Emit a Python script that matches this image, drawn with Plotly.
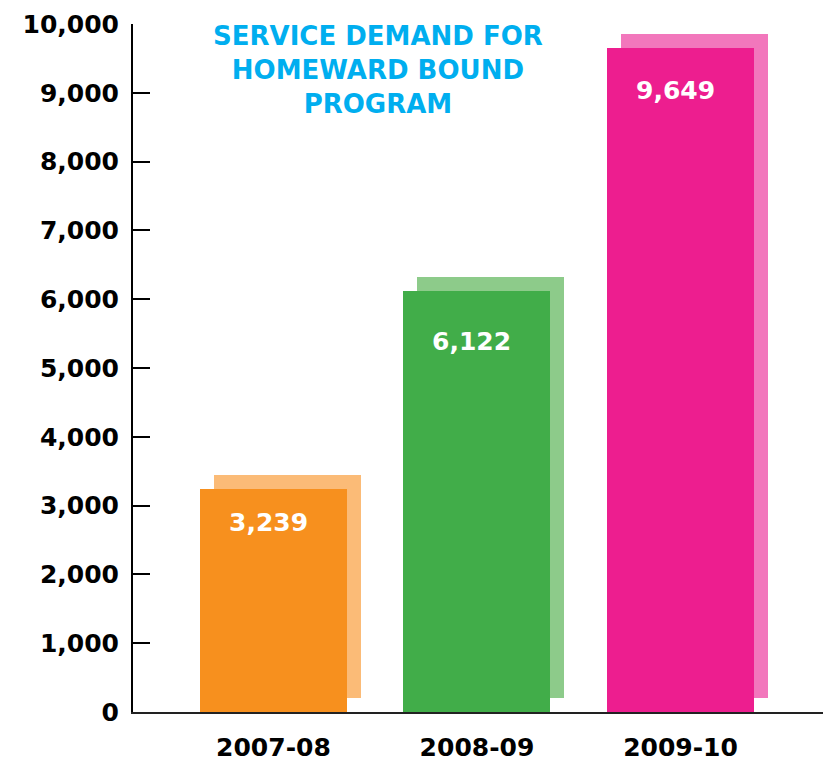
import plotly.graph_objects as go

# ---- data ----
categories = ["2007-08", "2008-09", "2009-10"]
values = [3239, 6122, 9649]
value_labels = ["3,239", "6,122", "9,649"]
tick_values = [0, 1000, 2000, 3000, 4000, 5000, 6000, 7000, 8000, 9000, 10000]
tick_labels = ["0", "1,000", "2,000", "3,000", "4,000", "5,000", "6,000", "7,000", "8,000", "9,000", "10,000"]
title_text = "SERVICE DEMAND FOR<br>HOMEWARD BOUND<br>PROGRAM"

# ---- style ----
main_colors = ["#F7901E", "#41AD49", "#ED1E8F"]
shadow_colors = ["#FBBB77", "#8DCB8A", "#F277BC"]
FONT = "DejaVu Sans"

W, H = 823, 762
ml, mr, mt, mb = 133, 0, 24, 50
plot_w = W - ml - mr
plot_h = H - mt - mb
x_range = [-0.69, 2.70]
y_range = [0, 10000]
px_per_x = plot_w / (x_range[1] - x_range[0])
px_per_y = plot_h / (y_range[1] - y_range[0])
bar_w = 147 / px_per_x
shift_px = 14
shadow_dx = shift_px / px_per_x
shadow_dy = shift_px / px_per_y
label_yshift = [-33, -51, -42]
label_dx = -5 / px_per_x

xpos = list(range(len(categories)))

fig = go.Figure()
fig.add_trace(go.Bar(
    x=xpos, y=values, base=[shadow_dy] * len(values),
    width=bar_w, offset=-bar_w / 2 + shadow_dx,
    marker=dict(color=shadow_colors, line=dict(width=0)),
    hoverinfo="skip", showlegend=False,
))
fig.add_trace(go.Bar(
    x=xpos, y=values, width=bar_w, offset=-bar_w / 2,
    marker=dict(color=main_colors, line=dict(width=0)),
    showlegend=False,
))

for i, (v, lab) in enumerate(zip(values, value_labels)):
    fig.add_annotation(
        x=i + label_dx, y=v, text=lab, showarrow=False,
        yshift=label_yshift[i], yanchor="middle", xanchor="center",
        font=dict(family=FONT, size=25, color="white", weight="bold"),
    )

fig.add_annotation(
    x=(377.5 - ml) / plot_w, y=1.007, xref="paper", yref="paper",
    text=title_text, showarrow=False, xanchor="center", yanchor="top",
    align="center",
    font=dict(family=FONT, size=26, color="#00AEEF", weight="bold"),
)

fig.update_layout(
    width=W, height=H,
    margin=dict(l=ml, r=mr, t=mt, b=mb),
    paper_bgcolor="white", plot_bgcolor="white",
    barmode="overlay",
    bargap=0,
    xaxis=dict(
        range=x_range, tickmode="array", tickvals=xpos, ticktext=categories,
        showgrid=False, zeroline=False, showline=True, linecolor="#222222",
        linewidth=2, ticks="", ticklabelstandoff=12, automargin=False,
        tickfont=dict(family=FONT, size=25, color="black", weight="bold"),
        fixedrange=True,
    ),
    yaxis=dict(
        range=y_range, tickmode="array", tickvals=tick_values, ticktext=tick_labels,
        showgrid=False, zeroline=False, showline=True, linecolor="black",
        linewidth=2, ticks="inside", ticklen=17, tickwidth=2, tickcolor="black",
        ticklabelstandoff=7, automargin=False,
        tickfont=dict(family=FONT, size=25, color="black", weight="bold"),
        fixedrange=True,
    ),
)

fig.write_html(
    "out.html",
    config={"displayModeBar": False},
    post_script="document.body.style.margin='0';document.body.style.overflow='hidden';",
)
